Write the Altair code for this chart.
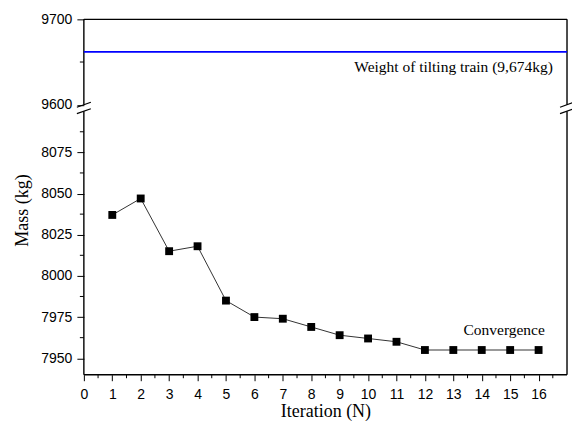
import altair as alt
import pandas as pd

# ---- data ----
iterations = list(range(1, 17))
mass = [8037, 8047, 8015, 8018, 7985, 7975, 7974, 7969, 7964, 7962, 7960,
        7955, 7955, 7955, 7955, 7955]
train_weight_drawn = 9662
train_label = "Weight of tilting train (9,674kg)"
conv_label = "Convergence"

x_major = list(range(0, 17))
x_minor = [i + 0.5 for i in range(17)]
y_major = [7950, 7975, 8000, 8025, 8050, 8075, 9600, 9700]
y_minor = [7962.5, 7987.5, 8012.5, 8037.5, 8062.5, 8087.5, 9650]

X_MIN, X_MAX = 0, 17
Y_DOMAIN = [7940, 8100, 9600, 9700]

W, H = 484, 356
Y_RANGE = [H, 92, 85.5, 0]

LABEL_FONT = "Liberation Sans"
SERIF = "Liberation Serif"

df = pd.DataFrame({"it": iterations, "mass": mass})

xs = alt.Scale(domain=[X_MIN, X_MAX], nice=False, zero=False)
ys = alt.Scale(domain=Y_DOMAIN, range=Y_RANGE, nice=False, zero=False)

x_axis = alt.Axis(values=x_major, format="d", domain=False, grid=False,
                  tickSize=6, tickColor="black", tickWidth=1,
                  labelFont=LABEL_FONT, labelFontSize=14, labelColor="black",
                  labelPadding=7, labelFlush=False, labelOverlap=False,
                  title="Iteration (N)", titleFont=SERIF, titleFontSize=18,
                  titleFontWeight="normal", titleColor="black",
                  titleBaseline="middle", titleY=37)
y_axis = alt.Axis(values=y_major, format="d", domain=False, grid=False,
                  tickSize=7, tickColor="black", tickWidth=1,
                  labelFont=LABEL_FONT, labelFontSize=14, labelColor="black",
                  labelPadding=5, labelFlush=False, labelOverlap=False,
                  title="Mass (kg)", titleFont=SERIF, titleFontSize=18,
                  titleFontWeight="normal", titleColor="black",
                  titleAngle=-90, titleX=-61, titleY=191,
                  titleBaseline="middle", titleAlign="center")


def X(field):
    return alt.X(field, type="quantitative", scale=xs, axis=x_axis)


def Y(field):
    return alt.Y(field, type="quantitative", scale=ys, axis=y_axis)


base = alt.Chart(df)

line = base.mark_line(color="#333333", strokeWidth=1).encode(
    x=X("it"), y=Y("mass"))
pts = base.mark_square(size=62, color="black", opacity=1).encode(
    x=X("it"), y=Y("mass"))

# frame segments (with the break gap)
frame_df = pd.DataFrame({
    "x": [X_MIN, X_MIN, X_MAX, X_MAX, X_MIN, X_MIN],
    "x2": [X_MIN, X_MIN, X_MAX, X_MAX, X_MAX, X_MAX],
    "y": [7940, 9600, 7940, 9600, 9700, 7940],
    "y2": [8100, 9700, 8100, 9700, 9700, 7940],
})
frame = alt.Chart(frame_df).mark_rule(color="black", strokeWidth=1.4).encode(
    x=X("x"), x2="x2:Q", y=Y("y"), y2="y2:Q")

# break slashes
brk_df = pd.DataFrame({"x": [X_MIN, X_MIN, X_MAX, X_MAX],
                       "y": [9600, 8100, 9600, 8100]})
brk = alt.Chart(brk_df).mark_rule(color="black", strokeWidth=1.2,
                                  xOffset=-7, x2Offset=7,
                                  yOffset=2.5, y2Offset=-2.5).encode(
    x=X("x"), x2="x:Q", y=Y("y"), y2="y:Q")

# minor ticks
ymin_df = pd.DataFrame({"x": [X_MIN] * len(y_minor), "y": y_minor})
ymin = alt.Chart(ymin_df).mark_rule(color="black", strokeWidth=1,
                                    xOffset=-4, x2Offset=0).encode(
    x=X("x"), x2="x:Q", y=Y("y"))
xmin_df = pd.DataFrame({"x": x_minor, "y": [Y_DOMAIN[0]] * len(x_minor)})
xmin = alt.Chart(xmin_df).mark_rule(color="black", strokeWidth=1,
                                    yOffset=0, y2Offset=3.5).encode(
    x=X("x"), y=Y("y"), y2="y:Q")

# blue train weight line
tw_df = pd.DataFrame({"x": [X_MIN], "x2": [X_MAX], "y": [train_weight_drawn]})
tw = alt.Chart(tw_df).mark_rule(color="#0000ff", strokeWidth=1.8).encode(
    x=X("x"), x2="x2:Q", y=Y("y"))
tw_text = alt.Chart(pd.DataFrame({"x": [16.5], "y": [train_weight_drawn],
                                  "t": [train_label]})).mark_text(
    align="right", baseline="middle", dy=15, font=SERIF, fontSize=15.5,
    color="black").encode(x=X("x"), y=Y("y"), text="t:N")

conv_text = alt.Chart(pd.DataFrame({"x": [16.22], "y": [7967],
                                    "t": [conv_label]})).mark_text(
    align="right", baseline="middle", font=SERIF, fontSize=15.5,
    color="black").encode(x=X("x"), y=Y("y"), text="t:N")

chart = alt.layer(line, pts, frame, brk, ymin, xmin, tw, tw_text, conv_text).properties(
    width=W, height=H,
    autosize=alt.AutoSizeParams(type="none"),
    padding={"left": 76, "top": 11, "right": 5, "bottom": 50},
).configure_view(stroke=None)

chart.save("out.html", embed_options={"renderer": "svg", "actions": False})
